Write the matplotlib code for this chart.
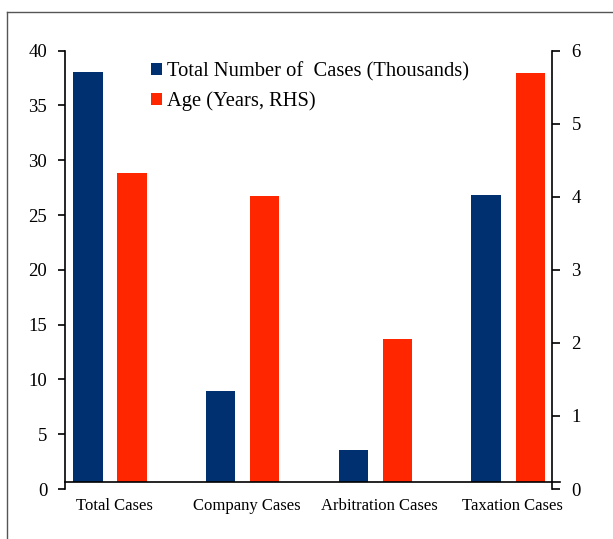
import matplotlib
matplotlib.use("Agg")
import matplotlib.pyplot as plt
from matplotlib.lines import Line2D
from matplotlib.patches import Patch
import numpy as np

# === Data ===
categories = ["Total Cases", "Company Cases", "Arbitration Cases", "Taxation Cases"]
total_cases_k = [38.1, 8.9, 3.6, 26.8]      # thousands, left axis
age_years = [4.33, 4.01, 2.05, 5.69]        # years, right axis
left_ticks = [0, 5, 10, 15, 20, 25, 30, 35, 40]
right_ticks = [0, 1, 2, 3, 4, 5, 6]

# === Style ===
BLUE = "#00306F"
RED = "#FF2600"
plt.rcParams["font.family"] = ["Liberation Serif", "DejaVu Serif"]

fig = plt.figure(figsize=(6.13, 5.39), dpi=100)
ax = fig.add_axes([65.3 / 613, 1 - 489 / 539, (552.3 - 65.3) / 613, (489 - 50.7) / 539])
ax2 = ax.twinx()

x = np.arange(len(categories))
off, w = 0.166, 0.22
# category axis line sits a little above the zero of the value axes
base_l = 0.6
base_r = base_l * 6 / 40

ax.bar(x - off, np.array(total_cases_k) - base_l, w, bottom=base_l, color=BLUE, zorder=2)
ax2.bar(x + off, np.array(age_years) - base_r, w, bottom=base_r, color=RED, zorder=2)

ax.set_xlim(-0.337, 3.333)
ax.set_ylim(0, 40)
ax2.set_ylim(0, 6)

# === Axes look ===
for a in (ax, ax2):
    for s in ("top", "bottom"):
        a.spines[s].set_visible(False)
ax.spines["right"].set_visible(False)
ax2.spines["left"].set_visible(False)
ax.spines["left"].set_linewidth(1.2)
ax2.spines["right"].set_linewidth(1.2)

ax.set_yticks(left_ticks)
ax2.set_yticks(right_ticks)
ax.tick_params(axis="y", direction="out", length=5, width=1.2, pad=8, labelsize=13.5)
ax2.tick_params(axis="y", direction="out", length=5.8, width=1.2, pad=8, labelsize=13.5)

ax.set_xticks(x + 0.03)
ax.set_xticklabels(categories)
ax.tick_params(axis="x", length=0, pad=6.5, labelsize=12)

ax2.plot([-0.337, 3.391], [base_r, base_r], color="black", lw=1.2, clip_on=False, zorder=5)

# === Legend ===
handles = [Patch(facecolor=BLUE, edgecolor="none"), Patch(facecolor=RED, edgecolor="none")]
labels = ["Total Number of  Cases (Thousands)", "Age (Years, RHS)"]
fig.legend(handles, labels, loc="upper left", bbox_to_anchor=(151 / 613, 1 - 62 / 539),
           bbox_transform=fig.transFigure, frameon=False, fontsize=14.8,
           handlelength=0.54, handleheight=0.54, handletextpad=0.26,
           labelspacing=0.5, borderpad=0, borderaxespad=0)

# === Outer frame (only left and top edges are inside the picture) ===
fig.add_artist(Line2D([7 / 613, 7 / 613], [0, 1 - 12 / 539], color="#555555", lw=1))
fig.add_artist(Line2D([7 / 613, 1], [1 - 12 / 539, 1 - 12 / 539], color="#555555", lw=1))

fig.savefig("out.png", dpi=100)
